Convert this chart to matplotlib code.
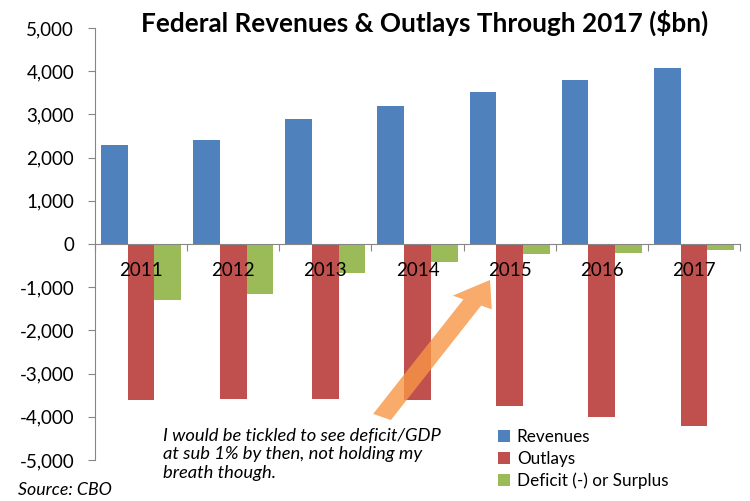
import matplotlib
matplotlib.use('Agg')
import matplotlib.pyplot as plt
import numpy as np
from matplotlib.patches import FancyArrow
from matplotlib.ticker import FuncFormatter

plt.rcParams['font.family'] = ['Lato', 'DejaVu Sans']

years = ['2011', '2012', '2013', '2014', '2015', '2016', '2017']
revenues = [2300, 2410, 2900, 3200, 3520, 3800, 4075]
outlays = [-3620, -3580, -3580, -3620, -3760, -4010, -4220]
deficit = [-1300, -1150, -660, -410, -230, -200, -140]

blue = '#4F81BD'
red = '#C0504D'
green = '#9BBB59'
axis_col = '#868686'

fig = plt.figure(figsize=(7.5, 5.01), dpi=100)
ax = fig.add_axes([0.1267, 0.0818, 0.86, 0.8622])

x = np.arange(len(years))
w = 0.29
ax.bar(x - w, revenues, w, color=blue, label='Revenues', zorder=2)
ax.bar(x, outlays, w, color=red, label='Outlays', zorder=2)
ax.bar(x + w, deficit, w, color=green, label='Deficit (-) or Surplus', zorder=2)

ax.set_xlim(-0.5, len(years) - 0.5)
ax.set_ylim(-5000, 5000)
ax.set_yticks(range(-5000, 5001, 1000))
ax.yaxis.set_major_formatter(FuncFormatter(lambda v, p: f'{int(v):,}'))

for s in ['top', 'right']:
    ax.spines[s].set_visible(False)
ax.spines['bottom'].set_position(('data', 0))
ax.spines['bottom'].set_color(axis_col)
ax.spines['left'].set_color(axis_col)
ax.spines['bottom'].set_zorder(3)

ax.set_xticks(np.arange(len(years) + 1) - 0.5)
ax.set_xticklabels([])
ax.set_xticks(x, minor=True)
ax.set_xticklabels(years, minor=True)
ax.tick_params(axis='x', which='major', direction='out', length=5, color=axis_col)
ax.tick_params(axis='x', which='minor', length=0, pad=13, labelsize=13.5)
ax.tick_params(axis='y', direction='out', length=5, color=axis_col, pad=10, labelsize=13.5)
ax.xaxis.set_zorder(3)

fig.text(0.566, 0.955, 'Federal Revenues & Outlays Through 2017 ($bn)',
         fontsize=18.8, fontweight='bold', ha='center', va='center')

ax.legend(loc='upper left', bbox_to_anchor=(0.655, 0.157), bbox_transform=fig.transFigure,
          frameon=False, fontsize=12.3, handlelength=0.7, handleheight=0.7,
          handletextpad=0.4, labelspacing=0.32, borderaxespad=0)

fig.text(0.217, 0.093, 'I would be tickled to see deficit/GDP\nat sub 1% by then, not holding my\nbreath though.',
         fontsize=13.2, style='italic', ha='left', va='center', linespacing=1.22)
fig.text(0.024, 0.022, 'Source: CBO', fontsize=12.8, style='italic', ha='left', va='center')

# orange arrow, figure pixel coords
arr = FancyArrow(382 / 750, 1 - 417 / 501, (490 - 382) / 750, -(280 - 417) / 501,
                 width=20 / 750, head_width=44 / 750, head_length=38 / 750,
                 length_includes_head=True, transform=fig.transFigure,
                 color='#F79646', alpha=0.8, lw=0, zorder=5)
fig.patches.append(arr)

fig.savefig('out.png', dpi=100)
